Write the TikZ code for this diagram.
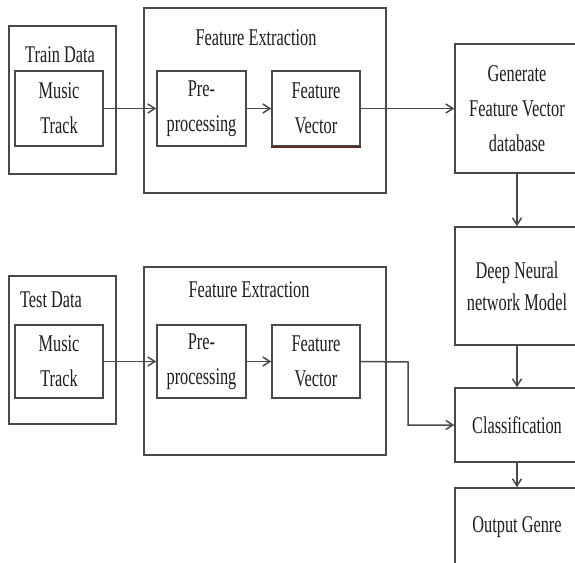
\documentclass[tikz,border=0pt]{standalone}
\usepackage{fontspec}
\setmainfont{Liberation Serif}[FakeStretch=0.68]
\usetikzlibrary{arrows.meta}
\definecolor{linec}{HTML}{4A4A4A}
\definecolor{txtc}{HTML}{1E1E1E}
\definecolor{brownline}{HTML}{5A2E24}
\begin{document}
\begin{tikzpicture}[x=1pt,y=-1pt,
  lbl/.style={font=\fontsize{24}{35}\selectfont, text=txtc, inner sep=0pt, align=center},
  box/.style={draw=linec, line width=1.6pt, rectangle, inner sep=0pt, align=center,
    font=\fontsize{24}{35}\selectfont, text=txtc},
  conn/.style={draw=linec, line width=1.5pt, -{Straight Barb[length=7pt,width=9pt]}}]
\useasboundingbox (0,0) rectangle (575,562);
\clip (0,0) rectangle (575,562);
\fill[white] (0,0) rectangle (575,562);
% ---------- train row ----------
\node[box, minimum width=107, minimum height=148] (trout) at (62.5,100) {};
\node[lbl] (trlbl) at (60,55) {Train Data};
\node[box, minimum width=88, minimum height=75] (trmus) at (59,108.5) {Music\\Track};
\node[box, minimum width=242, minimum height=185] (trfe) at (265,100.5) {};
\node[lbl] (trfelbl) at (256,38) {Feature Extraction};
\node[box, minimum width=89, minimum height=75] (trpre) at (201.5,108.5) {Pre-\\processing};
\node[box, minimum width=88, minimum height=75] (trfv) at (316,108.5) {Feature\\Vector};
\draw[draw=brownline, line width=2pt] (trfv.south west) -- (trfv.south east);
% ---------- test row ----------
\node[box, minimum width=107, minimum height=148] (teout) at (62.5,350) {};
\node[lbl] (telbl) at (51,300) {Test Data};
\node[box, minimum width=88, minimum height=73] (temus) at (59,361.5) {Music\\Track};
\node[box, minimum width=242, minimum height=188] (tefe) at (265,361) {};
\node[lbl] (tefelbl) at (249,290) {Feature Extraction};
\node[box, minimum width=89, minimum height=73] (tepre) at (201.5,361.5) {Pre-\\processing};
\node[box, minimum width=88, minimum height=73] (tefv) at (316,361.5) {Feature\\Vector};
% ---------- right column ----------
\node[box, minimum width=124, minimum height=129] (gen) at (517,108.5) {Generate\\Feature Vector\\database};
\node[box, minimum width=124, minimum height=118, font=\fontsize{24}{32}\selectfont] (dnn) at (517,286) {Deep Neural\\network Model};
\node[box, minimum width=124, minimum height=74] (cls) at (517,425) {Classification};
\node[box, minimum width=124, minimum height=112] (out) at (517,544) {};
\node[lbl] (outlbl) at (517,527) {Output Genre};
% ---------- connectors ----------
\draw[conn] (trmus.east) -- (trpre.west);
\draw[conn] (trpre.east) -- (trfv.west);
\draw[conn] (trfv.east) -- (gen.west);
\draw[conn] (temus.east) -- (tepre.west);
\draw[conn] (tepre.east) -- (tefv.west);
\coordinate (bend) at (408,362);
\draw[conn] (tefv.east) -- (bend) |- (cls.west);
\draw[conn] (gen.south) -- (dnn.north);
\draw[conn] (dnn.south) -- (cls.north);
\draw[conn] (cls.south) -- (out.north);
\end{tikzpicture}
\end{document}
